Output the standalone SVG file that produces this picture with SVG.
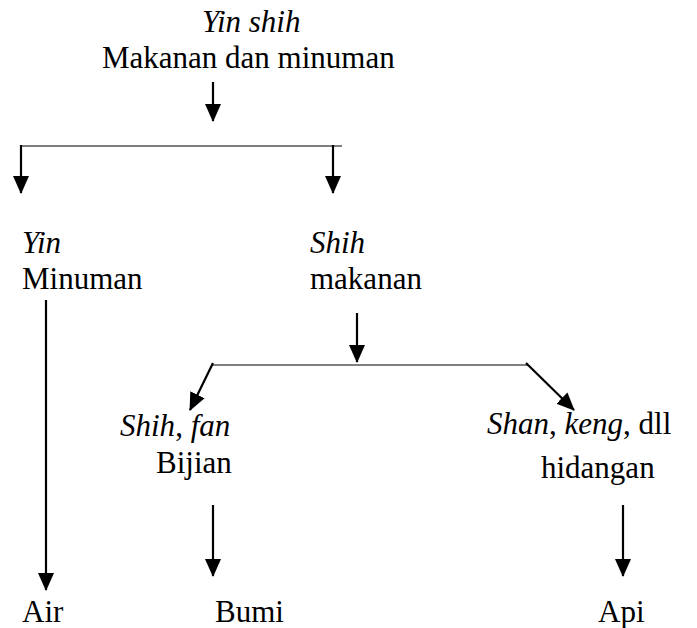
<svg xmlns="http://www.w3.org/2000/svg" width="697" height="628" viewBox="0 0 697 628">
<style>
text{font-family:"Liberation Serif","Times New Roman",serif;font-size:31px;fill:#000}
.i{font-style:italic}
.arr{stroke:#000;stroke-width:2.2;fill:none;marker-end:url(#ah)}
.bar{stroke:#000;stroke-width:1.2;fill:none}
</style>
<defs>
<marker id="ah" markerUnits="userSpaceOnUse" markerWidth="18" markerHeight="16" refX="17" refY="8" orient="auto">
<path d="M0,0 L18,8 L0,16 z" fill="#000"/>
</marker>
</defs>
<g id="connectors">
<line class="arr" x1="213" y1="82" x2="213" y2="121"/>
<line class="bar" x1="21" y1="146" x2="342" y2="146"/>
<line class="arr" x1="21" y1="145" x2="21" y2="193"/>
<line class="arr" x1="333" y1="145" x2="333" y2="193"/>
<line class="arr" x1="46" y1="300" x2="46" y2="590"/>
<line class="arr" x1="357" y1="313" x2="357" y2="362"/>
<line class="bar" x1="212" y1="365" x2="528" y2="365"/>
<line class="arr" x1="213" y1="363" x2="190" y2="410"/>
<line class="arr" x1="526" y1="363" x2="574" y2="410"/>
<line class="arr" x1="213" y1="505" x2="213" y2="576"/>
<line class="arr" x1="623" y1="505" x2="623" y2="576"/>
</g>
<g id="root"><text x="202" y="32" class="i">Yin shih</text><text x="102" y="68">Makanan dan minuman</text></g>
<g id="yin"><text x="22" y="253" class="i">Yin</text><text x="22" y="289">Minuman</text></g>
<g id="shih"><text x="310" y="253" class="i">Shih</text><text x="310" y="289">makanan</text></g>
<g id="shihfan"><text x="120" y="436"><tspan class="i">Shih</tspan>, <tspan class="i">fan</tspan></text><text x="156" y="473">Bijian</text></g>
<g id="shankeng"><text x="487" y="434"><tspan class="i">Shan</tspan>, <tspan class="i">keng</tspan>, dll</text><text x="541" y="478">hidangan</text></g>
<g id="air"><text x="22" y="622">Air</text></g>
<g id="bumi"><text x="215" y="622">Bumi</text></g>
<g id="api"><text x="598" y="622">Api</text></g>
</svg>
